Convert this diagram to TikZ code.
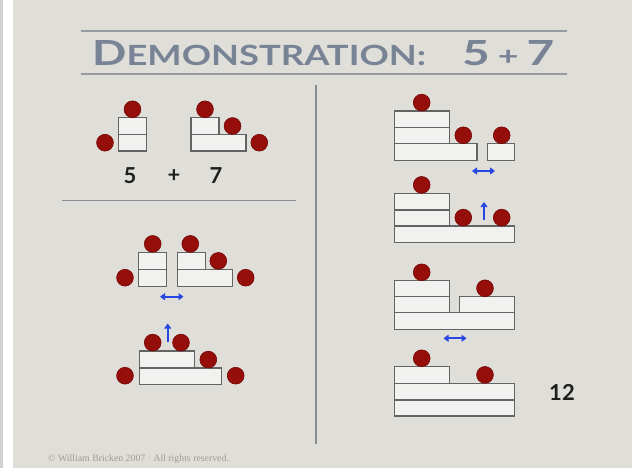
\documentclass[tikz,border=0pt]{standalone}
\usepackage{fontspec}
\setmainfont{Lato}
\newfontfamily\footfont{Liberation Serif}
\usetikzlibrary{arrows.meta}
\definecolor{slide}{RGB}{224,222,217}
\definecolor{rulec}{RGB}{150,154,162}
\definecolor{titlec}{RGB}{120,131,150}
\definecolor{boxfill}{RGB}{241,241,240}
\definecolor{boxline}{RGB}{100,100,100}
\definecolor{ballc}{RGB}{150,14,10}
\definecolor{balledge}{RGB}{115,5,5}
\definecolor{arrowc}{RGB}{40,70,225}
\definecolor{footc}{RGB}{160,156,150}
\tikzset{
  blk/.style={fill=boxfill,draw=boxline,line width=1.1pt},
  ballst/.style={fill=ballc,draw=balledge,line width=0.6pt},
  divider/.style={draw=rulec!90!black,line width=1.2pt},
  darrow/.style={draw=arrowc,line width=1.9pt,{Triangle[length=5pt,width=7pt]}-{Triangle[length=5pt,width=7pt]}},
  uarrow/.style={draw=arrowc,line width=1.9pt,-{Triangle[length=5pt,width=7pt]}},
  numtext/.style={font=\fontsize{22}{22}\selectfont\bfseries,text=black!88,inner sep=0pt},
  titletext/.style={anchor=base west,text=titlec,inner sep=0pt,font=\bfseries}
}
\newcommand{\bl}[2]{\draw[ballst] (#1,#2) circle (8.4);}
\begin{document}
\begin{tikzpicture}[x=1pt,y=-1pt]
\useasboundingbox (0,0) rectangle (632,468);
\fill[white] (0,0) rectangle (632,468);
\fill[black!18] (0,0) rectangle (3,468);
\fill[slide] (12.7,0) rectangle (632,468);
% title
\draw[draw=rulec,line width=1.3pt] (81,31) -- (567,31);
\draw[draw=rulec,line width=1.3pt] (81,74) -- (567,74);
\node[titletext] (title) at (92,66)
  {\resizebox{334pt}{25pt}{\fontsize{36}{36}\selectfont D\fontsize{29}{29}\selectfont EMONSTRATION:}};
\node[titletext] (titlesum) at (462,66)
  {\resizebox{92pt}{25pt}{\fontsize{36}{36}\selectfont 5\,{\fontsize{27}{27}\selectfont +}\,7}};
% dividers
\draw[divider] (316,85) -- (316,444);
\draw[divider] (62,200.5) -- (296,200.5);
% ---- top left: 5 + 7
\draw[blk] (118.5,117.7) rectangle (146.5,134.3);
\draw[blk] (118.5,134.3) rectangle (146.5,151);
\bl{132.5}{109.3}
\bl{105}{142.7}
\draw[blk] (191,117.7) rectangle (219,134.3);
\draw[blk] (191,134.3) rectangle (246,151);
\bl{205}{109.3}
\bl{232.5}{126}
\bl{259.3}{142.7}
\node[numtext] (five) at (130,176) {5};
\node[numtext] (plus) at (174,176) {+};
\node[numtext] (seven) at (216,176) {7};
% ---- bottom left row 1
\draw[blk] (138.3,252.3) rectangle (166.7,269.3);
\draw[blk] (138.3,269.3) rectangle (166.7,286.7);
\bl{152.7}{243.9}
\bl{125}{277.7}
\draw[blk] (177.3,252.3) rectangle (205.3,269.3);
\draw[blk] (177.3,269.3) rectangle (232.7,286.7);
\bl{190.3}{243.9}
\bl{218.3}{260.9}
\bl{245.7}{277.7}
\coordinate (a1l) at (160,296.7);
\coordinate (a1r) at (183.5,296.7);
\draw[darrow] (a1l) -- (a1r);
\coordinate (u1b) at (167.7,342);
\coordinate (u1t) at (167.7,323.5);
\draw[uarrow] (u1b) -- (u1t);
% ---- bottom left row 2
\draw[blk] (139.3,351) rectangle (194.3,368);
\draw[blk] (139.3,368) rectangle (221.7,384.7);
\bl{152.7}{342.6}
\bl{181}{342.6}
\bl{208.3}{359.6}
\bl{125}{375.7}
\bl{235.7}{375.7}
% ---- right group 1
\draw[blk] (394.3,111) rectangle (449.3,127.7);
\draw[blk] (394.3,127.7) rectangle (449.3,143.7);
\draw[blk] (394.3,143.7) rectangle (477,160.7);
\draw[blk] (487.3,143.7) rectangle (514.3,160.7);
\bl{421.7}{102.6}
\bl{463.3}{135.3}
\bl{501.7}{135.3}
\coordinate (a2l) at (472,171);
\coordinate (a2r) at (495,171);
\draw[darrow] (a2l) -- (a2r);
% ---- right group 2
\draw[blk] (394.3,193.3) rectangle (449.3,210);
\draw[blk] (394.3,210) rectangle (449.3,226);
\draw[blk] (394.3,226) rectangle (514.3,242.7);
\bl{421.7}{184.9}
\bl{463.3}{217.6}
\bl{501.7}{217.6}
\coordinate (u2b) at (484,220);
\coordinate (u2t) at (484,202);
\draw[uarrow] (u2b) -- (u2t);
% ---- right group 3
\draw[blk] (394.3,280.7) rectangle (449.3,296.7);
\draw[blk] (394.3,296.7) rectangle (449.3,312.7);
\draw[blk] (459.3,296.7) rectangle (514.3,312.7);
\draw[blk] (394.3,312.7) rectangle (514.3,329.3);
\bl{421.7}{272.3}
\bl{485}{288.3}
\coordinate (a3l) at (443.5,338.3);
\coordinate (a3r) at (466.5,338.3);
\draw[darrow] (a3l) -- (a3r);
% ---- right group 4
\draw[blk] (394.3,366.7) rectangle (449.3,383.3);
\draw[blk] (394.3,383.3) rectangle (514.3,400);
\draw[blk] (394.3,400) rectangle (514.3,416);
\bl{421.7}{358.3}
\bl{485}{374.9}
\node[numtext] (twelve) at (562,392.7) {12};
% footer
\node[anchor=base west,text=footc,inner sep=0pt,font=\footfont\fontsize{9.8}{9.8}\selectfont] (foot) at (48,461) {© William Bricken 2007 · All rights reserved.};
\end{tikzpicture}
\end{document}
